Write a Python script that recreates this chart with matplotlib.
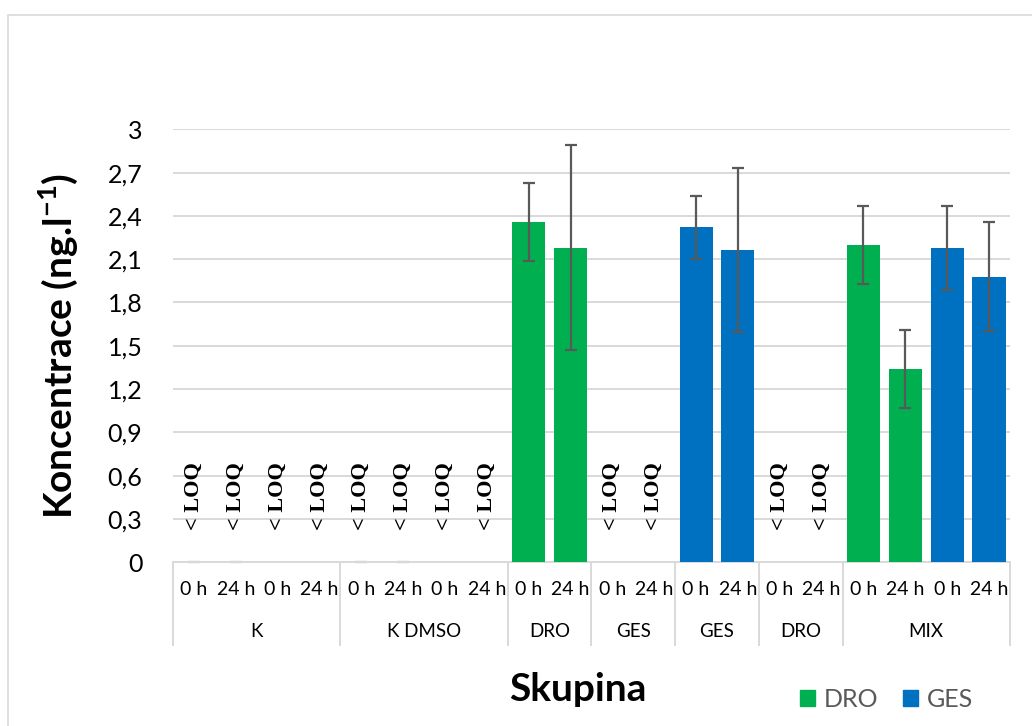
import numpy as np
import matplotlib
matplotlib.use("Agg")
import matplotlib.pyplot as plt
import matplotlib.transforms as mtransforms
from matplotlib.ticker import FuncFormatter
from matplotlib.patches import Rectangle, Patch

plt.rcParams['font.family'] = ['Lato', 'DejaVu Sans']
plt.rcParams['mathtext.fontset'] = 'custom'
plt.rcParams['mathtext.rm'] = 'Lato'
plt.rcParams['mathtext.bf'] = 'Lato:bold'

# x categories: sampling time inside each exposure group
time_labels = ["0 h", "24 h"] * 10
groups = ["K", "K DMSO", "DRO", "GES", "GES", "DRO", "MIX"]
group_sizes = [4, 4, 2, 2, 2, 2, 4]

# measured concentrations (mean +- sd), ng/l
dro_pos = [8, 9, 16, 17]
dro_mean = [2.36, 2.18, 2.20, 1.34]
dro_sd = [0.27, 0.71, 0.27, 0.27]

ges_pos = [12, 13, 18, 19]
ges_mean = [2.32, 2.165, 2.18, 1.98]
ges_sd = [0.22, 0.57, 0.29, 0.38]

# below limit of quantification
loq_pos = [0, 1, 2, 3, 4, 5, 6, 7, 10, 11, 14, 15]
zero_pos = [0, 1, 4, 5]

green = "#00b050"
blue = "#0070c0"
grey = "#595959"
light = "#d9d9d9"

fig = plt.figure(figsize=(10.32, 7.26), dpi=100)
fig.patches.append(Rectangle((8 / 1032, -0.05), 1.1, 1 - 15 / 726 + 0.05,
                             transform=fig.transFigure, fill=False,
                             edgecolor=light, lw=1.2))

ax = fig.add_axes([0.1676, 0.2255, 0.811, 0.5964])

ekw = dict(ecolor=grey, elinewidth=1.6, capsize=4.5, capthick=1.6)
ax.bar(dro_pos, dro_mean, width=0.79, color=green, yerr=dro_sd,
       error_kw=ekw, zorder=3)
ax.bar(ges_pos, ges_mean, width=0.79, color=blue, yerr=ges_sd,
       error_kw=ekw, zorder=3)
ax.errorbar(zero_pos, np.zeros(len(zero_pos)), yerr=np.zeros(len(zero_pos)),
            fmt='none', ecolor="#cfcfcf", capsize=4, capthick=1.6, zorder=2,
            clip_on=False)

for p in loq_pos:
    ax.text(p, 0.46, "< LOQ", rotation=90, ha='center', va='center',
            family='Liberation Serif', weight='bold', fontsize=16)

ax.set_xlim(-0.5, 19.5)
ax.set_ylim(0, 3)
ax.set_yticks(np.arange(0, 3.01, 0.3))
ax.yaxis.set_major_formatter(FuncFormatter(lambda v, pos: ("%g" % round(v, 1)).replace(".", ",")))
ax.tick_params(axis='y', length=0, pad=22, labelsize=18)
ax.set_xticks([])
ax.yaxis.grid(True, color=light, lw=1.4)
ax.set_axisbelow(True)
for s in ["top", "right", "left"]:
    ax.spines[s].set_visible(False)
ax.spines["bottom"].set_color(light)
ax.spines["bottom"].set_linewidth(1.4)

# two-level category axis
trans = mtransforms.blended_transform_factory(ax.transData, ax.transAxes)
for i, lab in enumerate(time_labels):
    ax.text(i, -0.064, lab, transform=trans, ha='center', va='center', fontsize=14)

edges = np.concatenate([[0], np.cumsum(group_sizes)])
for e in edges:
    ax.plot([e - 0.5, e - 0.5], [0, -0.191], transform=trans, color=light,
            lw=1.4, clip_on=False)
for g, a, b in zip(groups, edges[:-1], edges[1:]):
    ax.text((a + b - 1) / 2, -0.161, g, transform=trans, ha='center',
            va='center', fontsize=13.5)

ax.set_ylabel(r"Koncentrace (ng.l$^{\mathbf{-1}}$)", fontsize=28, weight='bold')
ax.yaxis.set_label_coords(-0.111, 0.5)

fig.text(0.56, 0.0496, "Skupina", ha='center', va='center', fontsize=28, weight='bold')

handles = [Patch(color=green, label="DRO"), Patch(color=blue, label="GES")]
fig.legend(handles=handles, loc='center', bbox_to_anchor=(0.859, 0.0365), ncol=2,
           frameon=False, fontsize=18, handlelength=0.6, handleheight=0.6,
           handletextpad=0.35, columnspacing=1.0, labelcolor=grey)

fig.savefig("out.png", dpi=100)
